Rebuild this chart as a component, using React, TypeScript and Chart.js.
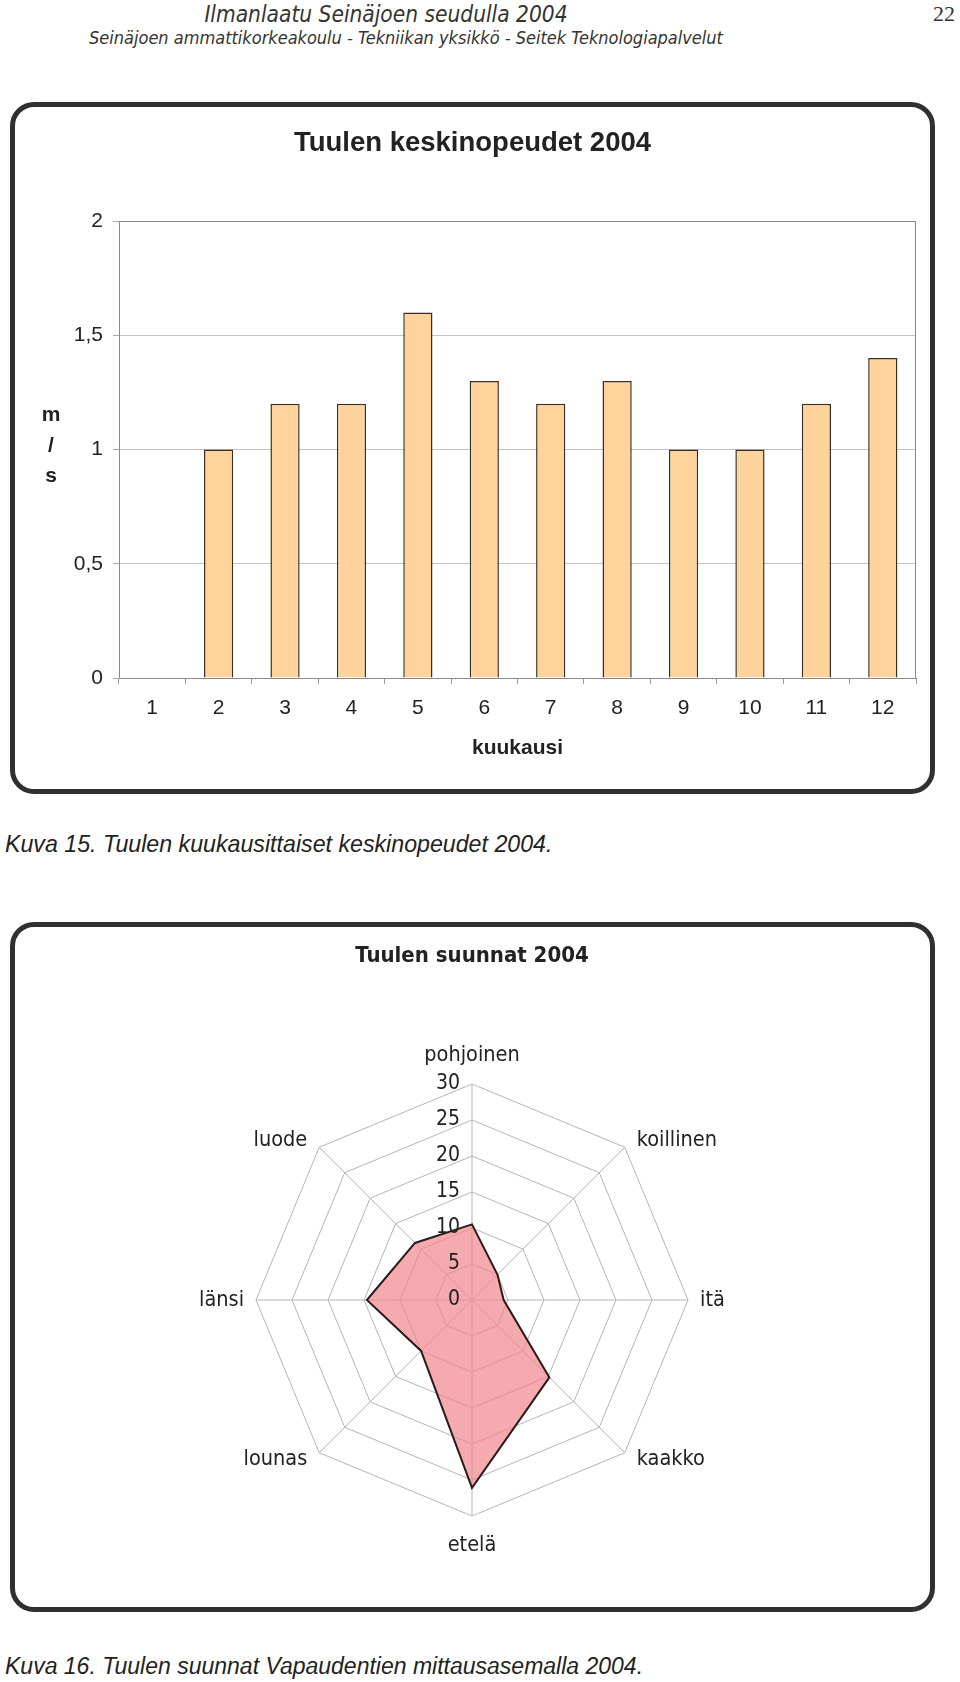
import React, { useEffect, useRef } from 'react';
import { Chart, registerables } from 'chart.js';

Chart.register(...registerables);

// ---- Data ----
const months = ['1', '2', '3', '4', '5', '6', '7', '8', '9', '10', '11', '12'];
const monthlySpeeds: (number | null)[] = [null, 1.0, 1.2, 1.2, 1.6, 1.3, 1.2, 1.3, 1.0, 1.0, 1.2, 1.4];
const speedAxisMin = 0;
const speedAxisMax = 2;
const speedAxisStep = 0.5;

const directions = ['pohjoinen', 'koillinen', 'itä', 'kaakko', 'etelä', 'lounas', 'länsi', 'luode'];
const directionShares = [10.5, 5, 4.4, 15.2, 26.1, 10, 14.6, 11.2];
const radarTickValues = [0, 5, 10, 15, 20, 25, 30];

const TXT = '#222';
const SANS = '"Liberation Sans", Arial, sans-serif';
const COND = '"DejaVu Sans Condensed", "DejaVu Sans", sans-serif';

const frameAndUnitPlugin = {
  id: 'frameAndUnit',
  afterDraw(chart: any) {
    const { ctx, chartArea } = chart;
    ctx.save();
    ctx.strokeStyle = '#8a8a8a';
    ctx.lineWidth = 1;
    ctx.strokeRect(chartArea.left + 0.5, chartArea.top + 0.5, chartArea.right - chartArea.left - 1, chartArea.bottom - chartArea.top);
    ctx.fillStyle = TXT;
    ctx.font = `bold 21px ${SANS}`;
    ctx.textAlign = 'center';
    ctx.textBaseline = 'middle';
    const mid = (chartArea.top + chartArea.bottom) / 2;
    const x = chartArea.left - 68;
    ['m', '/', 's'].forEach((t, i) => ctx.fillText(t, x, mid - 34 + i * 30.5));
    ctx.restore();
  },
};

const radarLabelsPlugin = {
  id: 'radarLabels',
  afterDraw(chart: any) {
    const scale = chart.scales.r;
    const { ctx } = chart;
    ctx.save();
    ctx.fillStyle = TXT;
    ctx.font = `21px ${COND}`;
    ctx.textBaseline = 'middle';
    ctx.textAlign = 'right';
    radarTickValues.forEach((v) => {
      const p = scale.getPointPositionForValue(0, v);
      ctx.fillText(String(v), p.x - 12, p.y);
    });
    ctx.font = `21.5px ${COND}`;
    const R = scale.drawingArea;
    (chart.data.labels as string[]).forEach((label, i) => {
      const p = scale.getPointPosition(i, R);
      const a = scale.getIndexAngle(i) - Math.PI / 2;
      const dx = Math.cos(a);
      const dy = Math.sin(a);
      if (Math.abs(dx) < 0.01) {
        ctx.textAlign = 'center';
        ctx.fillText(label, p.x, p.y + Math.sign(dy) * 29);
      } else {
        ctx.textAlign = dx > 0 ? 'left' : 'right';
        ctx.fillText(label, p.x + Math.sign(dx) * 12, p.y + dy * 10);
      }
    });
    ctx.restore();
  },
};

function BarChart() {
  const ref = useRef<HTMLCanvasElement>(null);
  useEffect(() => {
    const chart = new Chart(ref.current!, {
      type: 'bar',
      data: {
        labels: months,
        datasets: [
          {
            data: monthlySpeeds,
            backgroundColor: '#FFD39C',
            borderColor: '#3a2f22',
            borderWidth: 1.5,
            barPercentage: 0.44,
            categoryPercentage: 1,
          },
        ],
      },
      options: {
        animation: false,
        responsive: false,
        maintainAspectRatio: false,
        layout: { padding: { left: 19, right: 19, top: 0, bottom: 20 } },
        plugins: {
          legend: { display: false },
          tooltip: { enabled: false },
          title: {
            display: true,
            text: 'Tuulen keskinopeudet 2004',
            color: TXT,
            font: { family: SANS, size: 27.5, weight: 'bold' },
            padding: { top: 25.1, bottom: 60.9 },
          },
        },
        scales: {
          x: {
            grid: { display: true, drawOnChartArea: false, drawTicks: true, tickLength: 6, color: '#999', offset: true },
            border: { color: '#888' },
            ticks: { color: TXT, font: { family: SANS, size: 21 }, padding: 12, maxRotation: 0, autoSkip: false },
            title: {
              display: true,
              text: 'kuukausi',
              color: TXT,
              font: { family: SANS, size: 21, weight: 'bold' },
              padding: { top: 0, bottom: 13 },
            },
            afterFit: (s: any) => {
              s.height = 96;
            },
          },
          y: {
            min: speedAxisMin,
            max: speedAxisMax,
            ticks: {
              stepSize: speedAxisStep,
              color: TXT,
              font: { family: SANS, size: 21 },
              padding: 10,
              callback: (v: any) => String(v).replace('.', ','),
            },
            grid: { color: '#c4c4c4', tickLength: 6, tickColor: '#aaa' },
            border: { color: '#888' },
            afterFit: (s: any) => {
              s.width = 90;
            },
          },
        },
      } as any,
      plugins: [frameAndUnitPlugin],
    });
    return () => chart.destroy();
  }, []);
  return <canvas ref={ref} width={925} height={692} style={{ position: 'absolute', left: 10, top: 102, width: 925, height: 692 }} />;
}

function RadarChart() {
  const ref = useRef<HTMLCanvasElement>(null);
  useEffect(() => {
    const chart = new Chart(ref.current!, {
      type: 'radar',
      data: {
        labels: directions,
        datasets: [
          {
            data: directionShares,
            backgroundColor: 'rgba(239,134,141,0.7)',
            borderColor: '#2b1b1b',
            borderWidth: 2,
            pointRadius: 0,
            fill: true,
            tension: 0,
          },
        ],
      },
      options: {
        animation: false,
        responsive: false,
        maintainAspectRatio: false,
        layout: { padding: { left: 246, right: 247, top: 0, bottom: 96 } },
        plugins: {
          legend: { display: false },
          tooltip: { enabled: false },
          title: {
            display: true,
            text: 'Tuulen suunnat 2004',
            color: TXT,
            font: { family: COND, size: 22, weight: 'bold' },
            padding: { top: 21.4, bottom: 114.2 },
          },
        },
        scales: {
          r: {
            min: 0,
            max: 30,
            ticks: { stepSize: 5, display: false },
            pointLabels: { display: false },
            grid: { color: '#b5b5b5', lineWidth: 1, circular: false },
            angleLines: { color: '#b5b5b5', lineWidth: 1 },
          },
        },
      } as any,
      plugins: [radarLabelsPlugin],
    });
    return () => chart.destroy();
  }, []);
  return <canvas ref={ref} width={925} height={690} style={{ position: 'absolute', left: 10, top: 922, width: 925, height: 690 }} />;
}

const card = (top: number, height: number): React.CSSProperties => ({
  position: 'absolute',
  left: 10,
  top,
  width: 925,
  height,
  boxSizing: 'border-box',
  border: '5px solid #303030',
  borderRadius: 24,
  background: '#fff',
});

export default function App() {
  return (
    <div style={{ position: 'absolute', left: 0, top: 0, width: 960, height: 1682, background: '#fff', overflow: 'hidden' }}>
      <div style={{ position: 'absolute', left: 0, top: 0, width: 772, textAlign: 'center', fontFamily: COND, fontStyle: 'italic', fontSize: 22.5, lineHeight: '28px', color: '#333' }}>
        Ilmanlaatu Seinäjoen seudulla 2004
      </div>
      <div style={{ position: 'absolute', left: 0, top: 27, width: 812, textAlign: 'center', fontFamily: COND, fontStyle: 'italic', fontSize: 18, lineHeight: '22px', color: '#333' }}>
        Seinäjoen ammattikorkeakoulu - Tekniikan yksikkö - Seitek Teknologiapalvelut
      </div>
      <div style={{ position: 'absolute', right: 5, top: 0, fontFamily: '"Liberation Serif", serif', fontSize: 22, lineHeight: '28px', color: '#333' }}>22</div>

      <div style={card(102, 692)} />
      <BarChart />
      <div style={{ position: 'absolute', left: 5, top: 829, fontFamily: SANS, fontStyle: 'italic', fontSize: 23.2, lineHeight: '30px', color: TXT, whiteSpace: 'nowrap' }}>
        Kuva 15. Tuulen kuukausittaiset keskinopeudet 2004.
      </div>

      <div style={card(922, 690)} />
      <RadarChart />
      <div style={{ position: 'absolute', left: 5, top: 1651, fontFamily: SANS, fontStyle: 'italic', fontSize: 23, lineHeight: '30px', color: TXT, whiteSpace: 'nowrap' }}>
        Kuva 16. Tuulen suunnat Vapaudentien mittausasemalla 2004.
      </div>
    </div>
  );
}
